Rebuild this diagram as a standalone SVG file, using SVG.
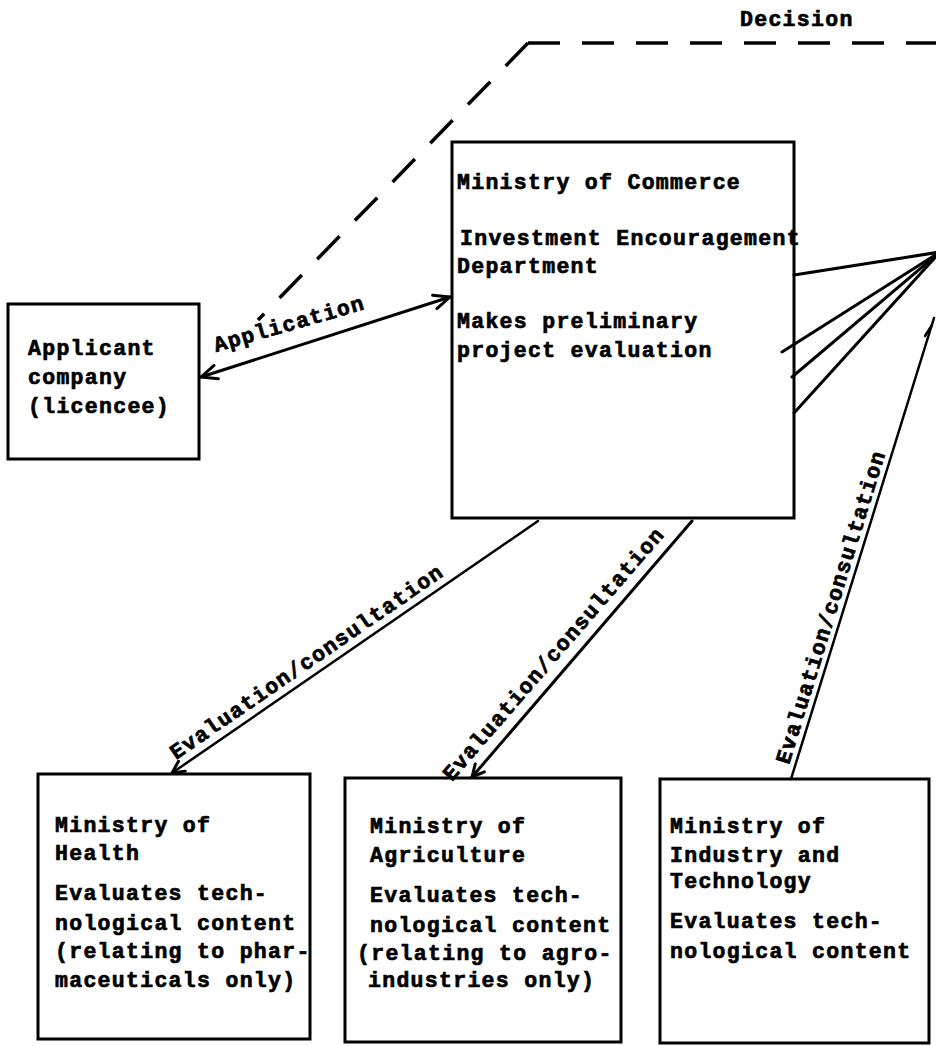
<svg xmlns="http://www.w3.org/2000/svg" width="936" height="1046" viewBox="0 0 936 1046">
  <style>
    .box { fill: #fff; stroke: #000; stroke-width: 3; }
    .t { font-family: "Liberation Mono", "DejaVu Sans Mono", monospace; font-weight: bold; font-size: 21.5px; letter-spacing: 1.3px; fill: #000; stroke: #000; stroke-width: 0.7; }
    .ln { fill: none; stroke: #000; stroke-width: 3; stroke-linecap: round; }
    .ln2 { fill: none; stroke: #000; stroke-width: 2.5; stroke-linecap: round; }
    .dash { fill: none; stroke: #000; stroke-width: 3.5; stroke-dasharray: 32 22; }
  </style>
  <defs>
    <marker id="arrow" viewBox="0 0 20 20" refX="18" refY="10" markerWidth="20" markerHeight="20" markerUnits="userSpaceOnUse" orient="auto-start-reverse">
      <path d="M2,3 L18,10 L2,17" fill="none" stroke="#000" stroke-width="3" stroke-linecap="round" stroke-linejoin="round"/>
    </marker>
    <marker id="arrow-sm" viewBox="0 0 16 16" refX="14" refY="8" markerWidth="16" markerHeight="16" markerUnits="userSpaceOnUse" orient="auto">
      <path d="M2,2 L14,8 L2,14" fill="none" stroke="#000" stroke-width="3" stroke-linecap="round" stroke-linejoin="round"/>
    </marker>
  </defs>

  <rect width="936" height="1046" fill="#fff"/>

  <!-- nodes -->
  <g id="applicant">
    <rect class="box" x="8" y="304" width="191" height="155"/>
    <text class="t" x="28" y="355">Applicant</text>
    <text class="t" x="28" y="384">company</text>
    <text class="t" x="28" y="413">(licencee)</text>
  </g>

  <g id="commerce">
    <rect class="box" x="452" y="142" width="342" height="376"/>
    <text class="t" x="457" y="189">Ministry of Commerce</text>
    <text class="t" x="460" y="245">Investment Encouragement</text>
    <text class="t" x="457" y="273">Department</text>
    <text class="t" x="457" y="328">Makes preliminary</text>
    <text class="t" x="457" y="357">project evaluation</text>
  </g>

  <g id="health">
    <rect class="box" x="38" y="774" width="272" height="265"/>
    <text class="t" x="55" y="832">Ministry of</text>
    <text class="t" x="55" y="860">Health</text>
    <text class="t" x="55" y="900">Evaluates tech-</text>
    <text class="t" x="55" y="930">nological content</text>
    <text class="t" x="55" y="958">(relating to phar-</text>
    <text class="t" x="55" y="987">maceuticals only)</text>
  </g>

  <g id="agriculture">
    <rect class="box" x="345" y="778" width="276" height="264"/>
    <text class="t" x="370" y="833">Ministry of</text>
    <text class="t" x="370" y="862">Agriculture</text>
    <text class="t" x="370" y="902">Evaluates tech-</text>
    <text class="t" x="370" y="932">nological content</text>
    <text class="t" x="357" y="960">(relating to agro-</text>
    <text class="t" x="368" y="987">industries only)</text>
  </g>

  <g id="industry">
    <rect class="box" x="660" y="779" width="269" height="264"/>
    <text class="t" x="670" y="833">Ministry of</text>
    <text class="t" x="670" y="862">Industry and</text>
    <text class="t" x="670" y="888">Technology</text>
    <text class="t" x="670" y="928">Evaluates tech-</text>
    <text class="t" x="670" y="958">nological content</text>
  </g>

  <!-- connectors -->
  <g id="connectors">
    <!-- decision route back to the applicant -->
    <path class="dash" d="M528,43 L936,43"/>
    <path class="dash" d="M528,43 L258,320"/>
    <text class="t" x="740" y="26">Decision</text>

    <!-- application, both ways -->
    <line class="ln" x1="201" y1="377" x2="450" y2="297" marker-start="url(#arrow)" marker-end="url(#arrow)"/>
    <text class="t" transform="translate(216,352) rotate(-16)">Application</text>

    <!-- links from Commerce to the decision body off the right edge -->
    <line class="ln" x1="794" y1="275" x2="940" y2="252"/>
    <line class="ln" x1="782" y1="352" x2="940" y2="252"/>
    <line class="ln" x1="792" y1="377" x2="940" y2="252"/>
    <line class="ln" x1="794" y1="413" x2="940" y2="252"/>

    <!-- evaluation / consultation links -->
    <line class="ln2" x1="538" y1="521" x2="172" y2="773" marker-end="url(#arrow-sm)"/>
    <text class="t" transform="translate(176,760) rotate(-34.5)">Evaluation/consultation</text>

    <line class="ln" x1="692" y1="521" x2="472" y2="777" marker-end="url(#arrow-sm)"/>
    <text class="t" transform="translate(452,782) rotate(-49.2)">Evaluation/consultation</text>

    <line class="ln2" x1="791" y1="779" x2="934" y2="318"/>
    <line class="ln2" x1="925" y1="336" x2="932" y2="325"/>
    <text class="t" transform="translate(789,765) rotate(-72.8)">Evaluation/consultation</text>
  </g>
</svg>
